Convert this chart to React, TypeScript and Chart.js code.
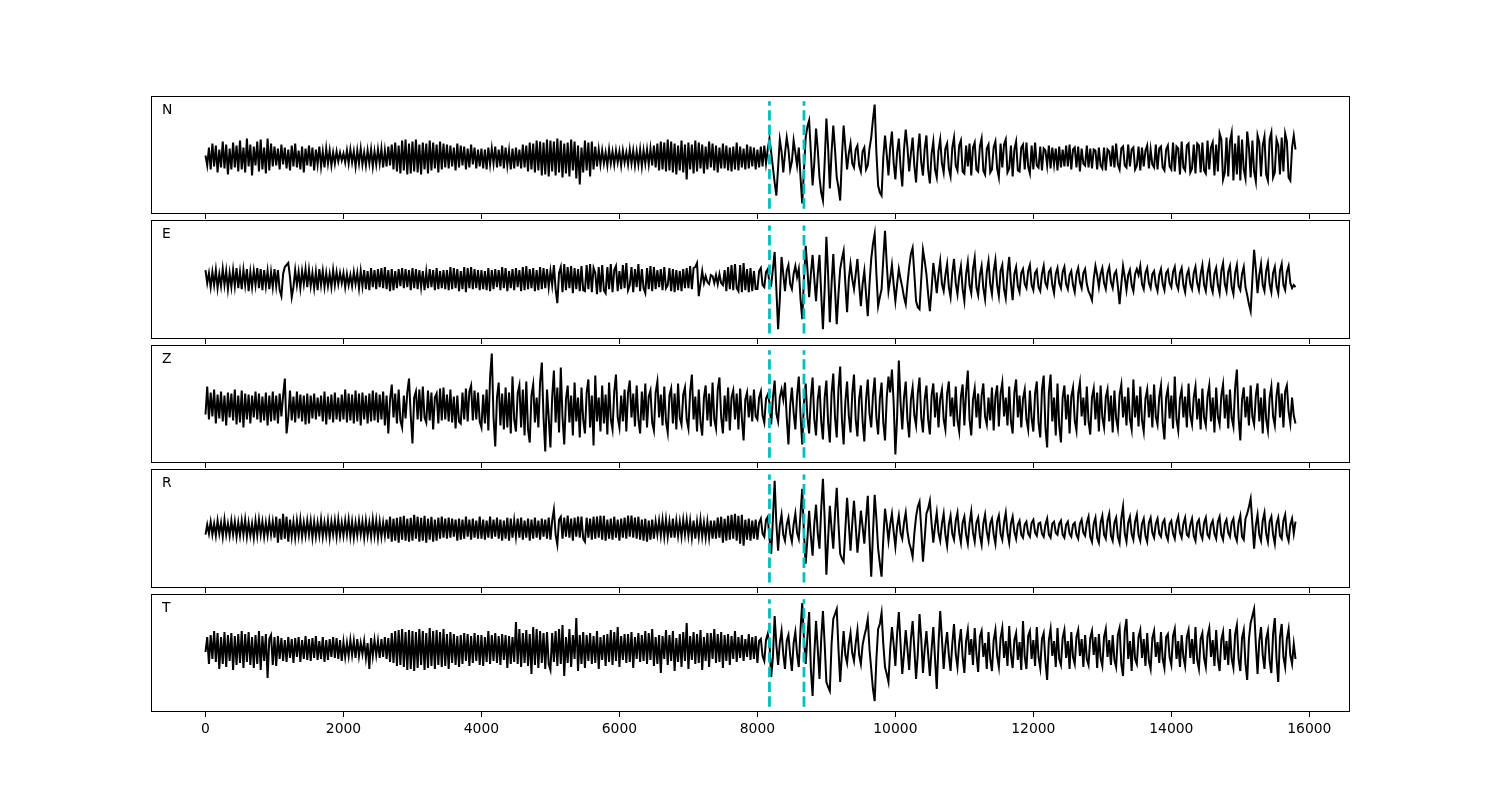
import React, { useEffect, useRef } from 'react';
import { Chart, registerables } from 'chart.js';

Chart.register(...registerables);

// ---- data ----
const SAMPLE_STEP = 25; // samples between stored points
const X_MIN = -790;
const X_MAX = 16590;
const X_TICKS = [0, 2000, 4000, 6000, 8000, 10000, 12000, 14000, 16000];
const PICKS = [8175, 8675];
const CHANNELS = ['N', 'E', 'Z', 'R', 'T'];

const N_TRACE = [
  2, -8, 10, -12, 14, -9, 12, -15, 8, -10, 16, -11, 13, -17, 9, -12, 15, -10, 12, -14,
  17, -12, 10, -15, 19, -9, 13, -18, 11, -8, 16, -14, 18, -12, 10, -16, 19, -13, 14, -9,
  11, -8, 9, -12, 13, -7, 10, -11, 8, -13, 12, -9, 14, -10, 7, -12, 11, -15, 9, -8,
  12, -9, 10, -13, 8, -7, 11, -9, 6, -10, 9, -6, 7, -8, 5, -6, 6, -4, 5, -3,
  4, -5, 7, -6, 8, -5, 6, -9, 7, -6, 9, -7, 5, -8, 7, -6, 8, -9, 6, -7,
  8, -6, 9, -10, 7, -9, 11, -8, 13, -12, 15, -14, 12, -16, 17, -13, 18, -17, 14, -16,
  16, -14, 18, -15, 13, -17, 15, -12, 14, -16, 17, -13, 15, -11, 13, -15, 16, -12, 14, -10,
  13, -11, 12, -9, 10, -13, 14, -10, 12, -8, 11, -12, 9, -10, 13, -7, 10, -11, 8, -9,
  9, -11, 8, -12, 10, -7, 9, -6, 11, -10, 8, -9, 12, -11, 10, -8, 7, -12, 9, -11,
  10, -9, 8, -11, 13, -10, 12, -14, 15, -12, 14, -15, 17, -13, 16, -18, 15, -17, 18, -19,
  17, -14, 16, -18, 19, -15, 17, -20, 14, -16, 15, -19, 18, -13, 16, -21, 12, -27, 10, -15,
  17, -13, 15, -19, 16, -12, 11, -9, 8, -7, 7, -6, 5, -8, 8, -6, 6, -7, 7, -5,
  6, -8, 7, -5, 5, -7, 8, -6, 7, -8, 6, -7, 8, -9, 7, -6, 8, -7, 9, -8,
  12, -10, 14, -13, 16, -12, 15, -14, 18, -13, 16, -15, 14, -17, 12, -13, 17, -15, 13, -22,
  15, -12, 13, -16, 17, -14, 15, -11, 13, -16, 11, -12, 16, -10, 14, -13, 12, -15, 10, -11,
  14, -11, 12, -13, 10, -14, 11, -12, 15, -13, 11, -10, 9, -12, 13, -11, 11, -9, 10, -12,
  8, -10, 11, -9, 12, -6, 8, 19, 5, -10, -25, -38, -10, 18, 6, -15, 4, 20, 8, -12,
  -4, 17, 5, -8, 10, -20, -46, -12, 20, 31, 37, 5, -28, -5, 29, 8, -20, -35, -43, -5,
  39, 10, -31, 5, 32, 8, -20, -30, -43, 0, 32, 10, -12, 4, 14, -6, -10, 8, 12, -8,
  -14, 6, 10, -12, -8, 9, 20, 38, 53, 5, -28, -35, -38, 0, 22, 3, -18, 10, 26, -5,
  -22, 5, 19, -10, -29, 8, 28, 10, -14, 4, 20, -8, -25, 6, 24, -5, -18, 9, 22, -12,
  -26, 4, 16, -12, -20, 7, 18, -6, -15, 9, 14, -11, -19, 10, 20, -8, -13, 12, 17, -14,
  -16, 12, -9, 14, -18, 10, 15, -12, -14, 11, 19, -13, -17, 9, 13, -15, -12, 10, 16, -11,
  -20, 14, -10, 13, 18, -15, -11, 12, -19, 8, 16, -13, -14, 10, 13, -12, 15, -9, -16, 12,
  -12, 15, -8, -10, 11, -13, 9, 7, -8, 12, -11, 10, -7, 9, -13, 11, -10, 8, -9, 12,
  -9, 13, -12, 8, 10, -10, 11, -14, 9, -6, -8, 12, -10, 9, -11, 8, 7, -12, 10, -8,
  -11, 10, -13, 8, 6, -9, 12, -10, 14, -7, -12, 9, 11, -8, -10, 13, -9, 8, 10, -12,
  -8, 11, -13, 10, -9, 7, 12, -11, 8, -7, -10, 13, -12, 9, 11, -10, -13, 8, 12, -9,
  -12, 15, -14, 11, 9, -17, 16, -10, -13, 12, 14, -15, -11, 13, -16, 14, 12, -15, 15, -13,
  -16, 17, -12, 10, 15, -18, 13, -14, 24, 18, -22, -15, 20, -19, 16, 25, -23, 14, -17, 22,
  -23, 18, -12, -21, 26, 10, -20, 17, -14, -24, 22, 15, -19, 12, 21, -17, -23, 18, 25, -20,
  -15, 18, 12, -17, 20, -14, 24, 16, -20, -23, 10, 22, 8,
];

const E_TRACE = [
  9, -4, 6, -8, 7, -6, 9, -9, 5, -7, 10, -6, 8, -10, 6, -8, 9, -7, 11, -9,
  7, -10, 9, -6, 10, -12, 7, -8, 8, -6, 11, -9, 10, -11, 9, -7, 8, -10, 7, -8,
  10, -7, 9, -11, -17, 5, 12, 14, 16, 2, -18, -8, 9, -6, 7, -9, 8, -5, 10, -8,
  9, -7, 6, -9, 7, -11, 10, -6, 8, -8, 6, -7, 5, -8, 9, -6, 7, -5, 6, -4,
  6, -8, 5, -6, 4, -7, 7, -5, 6, -9, 8, -7, 9, -10, 8, -11, 11, -8, 9, -10,
  10, -8, 11, -9, 12, -10, 9, -12, 10, -11, 8, -9, 10, -7, 11, -9, 10, -8, 9, -11,
  11, -9, 10, -10, 9, -8, 8, -11, 7, -9, 10, -8, 9, -11, 11, -10, 8, -9, 9, -10,
  9, -11, 12, -10, 11, -9, 10, -12, 8, -10, 12, -13, 11, -9, 12, -10, 10, -9, 9, -11,
  9, -10, 8, -11, 11, -12, 9, -10, 10, -8, 9, -11, 12, -9, 11, -12, 8, -9, 10, -11,
  11, -8, 9, -12, 12, -11, 13, -10, 10, -9, 11, -12, 9, -11, 12, -10, 11, -9, 10, -8,
  8, -6, 14, -10, -24, 6, 12, -13, 15, -11, 12, -9, 13, -14, 11, -10, 10, -12, 13, -11,
  -12, 14, -10, 15, -13, 11, 6, -15, 12, -13, 14, -11, -14, 12, -10, 15, -13, 9, 13, -12,
  8, -10, 14, -9, 16, -11, -6, 12, -13, 10, -8, 15, -12, 10, -9, -14, 11, -10, 13, -12,
  12, -10, 9, -8, 10, -11, 12, -9, -6, 11, -12, 10, -13, 9, -11, 8, -12, 10, -9, 11,
  -9, 13, -10, 11, 12, 16, -17, -5, 8, -4, 3, -3, -5, 4, 3, -4, 4, -5, 5, -4,
  -6, 9, -12, 12, -10, 14, -11, 15, -9, -12, 14, -13, 16, -11, 10, -13, 11, -12, 8, -10,
  -10, 8, 11, -6, -8, 7, 10, -4, -6, 10, 27, -10, -50, -20, 22, 5, -12, 8, 14, -5,
  -10, 5, 13, 2, 10, -20, -40, 0, 33, 10, -18, 5, 24, 0, -22, 5, 24, -15, -50, -10,
  42, 5, -43, -5, 25, -10, -45, -15, 10, 20, 28, -5, -33, 0, 15, 0, -10, 5, 20, -5,
  -27, -5, 8, -15, -37, -5, 20, 35, 45, 5, -27, -18, -10, 20, 48, 15, -12, 0, 14, -5,
  -22, -5, 10, 0, -8, -18, -25, -5, 12, 25, 31, 5, -22, -28, -30, 0, 29, 18, 5, -15,
  -32, -10, 16, 2, -14, 5, 18, -5, -12, 4, 15, -8, -18, 6, 20, -4, -15, 3, 13, -10,
  -22, 5, 17, -6, -14, 10, 21, -8, -16, 4, 13, -9, -20, 7, 18, -5, -15, 8, 19, -6,
  -17, 8, 14, -10, -19, 6, 22, -4, -21, 5, 12, -7, -13, 6, 10, -5, -9, 8, 14, -6,
  -11, 6, 9, -8, -12, 5, 13, -4, -8, 7, 10, -6, -14, 5, 11, -4, -9, 7, 12, -5,
  -10, 4, 8, -6, -13, 5, 11, -3, -9, 6, 10, -5, -12, -16, -21, 0, 13, 4, -8, 5,
  11, -4, -10, 6, 12, -3, -9, 5, 8, -7, -25, -5, 13, 2, -11, 4, 9, -6, -12, 5,
  10, 4, 13, -5, -10, 6, 11, -4, -9, 5, 8, -6, -12, 4, 10, -5, -11, 6, 9, -4,
  -8, 7, 12, -5, -10, 6, 11, -6, -13, 4, 9, -5, -10, 6, 12, -4, -11, 5, 14, -6,
  -12, 6, 15, -7, -13, 5, 11, -6, -14, 8, 16, -5, -12, 7, 13, -8, -15, 6, 14, -7,
  -11, 5, 12, -8, -16, -25, -32, 0, 29, 10, -14, 4, 15, -6, -12, 8, 16, -5, -13, 6,
  12, -7, -14, 8, 15, -6, -11, 7, 13, -4, -9, -6, -8,
];

const Z_TRACE = [
  -7, 21, -12, 15, -9, 18, -16, 13, -11, 16, -14, 12, -18, 15, -10, 14, -13, 18, -17, 12,
  -15, 17, -20, 14, -12, 13, -16, 12, -10, 16, -12, 14, -15, 11, -13, 15, -18, 12, -14, 16,
  -13, 12, -16, 14, -9, 12, 29, -26, -10, 17, -13, 11, -15, 16, -11, 13, -14, 12, -17, 14,
  -16, 12, -11, 14, -12, 10, -9, 12, -14, 16, -17, 11, -12, 13, -15, 15, -12, 10, -14, 13,
  -12, 18, -15, 14, -13, 13, -16, 17, -14, 14, -18, 15, -12, 12, -16, 14, -14, 17, -13, 15,
  -15, 13, -12, 16, -18, 12, -26, 8, 23, -10, 14, -16, 18, -13, -20, 12, -11, 15, 29, -8,
  -36, 10, 16, -12, 18, -14, 21, -10, -15, 17, -13, 15, -22, 10, 14, -16, 19, -13, 20, -12,
  13, -14, 18, -15, 11, -21, 12, -14, -16, 15, -12, 19, -14, 16, 22, -13, 17, -12, 15, -14,
  -20, 13, -16, 18, -23, 30, 54, -10, -39, 10, 25, -18, 14, -22, 20, -20, 15, -26, 31, -12,
  -24, 14, 22, -20, 18, -28, 26, -22, -35, 12, 23, -15, 10, -20, 25, 45, -10, -44, 18, -10,
  -40, 10, 37, -15, 20, -25, 40, -10, -37, 8, 22, -15, 12, -28, 25, -14, 10, -30, 20, -12,
  -26, 15, 28, -20, 12, -38, 32, -14, 10, -24, 22, -16, 13, -27, 25, -12, -22, 16, 33, -10,
  -20, 12, -14, 18, -24, 15, 27, -10, 14, -19, 22, -12, -26, 16, -13, 24, -20, 11, 17, -15,
  -23, 15, 26, -10, 13, -18, 21, -14, -25, 12, 19, -16, 14, -22, 24, -10, -17, 13, 20, -12,
  -21, 16, 33, -12, 11, -24, 18, -15, -28, 10, 22, -13, 14, -19, 25, -12, -21, 18, 30, -10,
  -26, 12, -14, 20, -23, 10, 17, -12, 14, -22, 19, -11, -33, 8, 15, -10, 12, -14, 18, -9,
  -12, 10, 16, -8, -15, 9, 13, 5, -17, 10, 27, -6, -14, 10, 18, 8, 25, -10, -37, 2,
  20, -5, -22, 12, 31, -8, -37, 5, 24, -10, -26, 10, 30, -12, -28, 8, 22, -14, -32, 10,
  27, -15, -35, 14, 34, -10, -30, 18, 41, -12, -37, 6, 26, -8, -25, 14, 33, -12, -29, 9,
  22, -14, -34, 8, 28, -6, -20, 12, 30, -10, -27, 9, 25, -15, -33, 10, 31, 15, 38, 5,
  -47, -10, 47, 5, -22, 10, 26, -12, -30, 8, 20, -8, -18, 14, 30, -10, -25, 8, 22, -12,
  -27, 12, 24, -10, 15, -20, 9, 18, -12, -22, 14, 26, -9, 10, -19, 21, -13, -24, 11, 23,
  -18, 15, 37, -12, -28, 8, 19, -10, 14, -21, 12, 24, -9, -17, 10, -13, 20, -23, 11, 22,
  -19, 14, 25, -9, 10, -18, 21, -14, -26, 15, 28, -10, 12, -20, 9, 18, -12, -22, 17, -11,
  -24, 14, 26, -15, -30, 18, 32, -20, -40, 15, 33, -14, 10, -28, 24, -18, -35, 10, 22, -12,
  13, -26, 11, 20, -13, -23, 14, 25, -9, 10, -18, 21, -14, -27, 10, 19, -12, 15, -24, 22,
  -10, -20, 10, 18, -14, 12, -25, 17, -11, -21, 13, 23, -10, 11, -18, 20, -12, -22, 28, -10,
  12, -19, 21, -13, -24, 9, 18, -10, 13, -20, 23, -9, -17, 11, 22, -15, -32, 10, 19, -11,
  12, -21, 31, -12, -23, 9, 18, -10, 11, -20, 24, -8, -17, 10, 21, -12, 9, -22, 19, -10,
  -18, 11, 22, -14, 10, -25, 20, -9, -17, 12, 23, -11, 13, -21, 18, -10, -19, 20, 38, -10,
  -33, 8, 20, -10, 11, -18, 22, -9, -17, 12, 24, -14, 10, -26, 19, -12, -23, 10, 21, -9,
  -18, 12, 25, -10, 14, -20, 16, 22, -4, -16, 10, -8, -16,
];

const R_TRACE = [
  -6, 4, -5, 7, -6, 5, -7, 8, -5, 6, -8, 9, -6, 5, -7, 8, -6, 7, -8, 6,
  -7, 8, -6, 9, -8, 6, -7, 5, -9, 8, -7, 9, -6, 7, -8, 6, -7, 8, -6, 7,
  -9, 12, -14, 10, -11, 15, -10, 12, -13, 9, -8, 7, -9, 8, -7, 9, -8, 6, -7, 8,
  -6, 8, -9, 7, -8, 6, -7, 9, -8, 6, -7, 8, -9, 7, -6, 8, -8, 9, -7, 6,
  -7, 8, -6, 9, -8, 7, -9, 6, -7, 8, -6, 7, -9, 8, -7, 6, -8, 9, -7, 8,
  -9, 7, -8, 6, -7, 9, -10, 12, -13, 10, -12, 11, -14, 12, -11, 13, -12, 10, -13, 11,
  -12, 14, -10, 12, -13, 11, -12, 13, -14, 10, -11, 12, -13, 9, -12, 11, -10, 12, -9, 10,
  -10, 11, -9, 10, -8, 9, -12, 10, -11, 9, -10, 12, -8, 9, -11, 10, -9, 8, -10, 12,
  -10, 9, -11, 8, -9, 12, -10, 9, -8, 11, -10, 9, -12, 8, -10, 11, -12, 10, -9, 8,
  -8, 10, -9, 11, -11, 8, -9, 10, -12, 9, -10, 11, -9, 8, -11, 10, -8, 9, -10, 11,
  -11, 8, 19, -6, -16, 9, 12, -10, 11, -8, 13, -9, 10, -12, 11, -8, 12, -9, 12, -10,
  -13, 11, -9, 10, -11, 12, -10, 12, -9, 13, -11, 13, -12, 9, -10, 10, -11, 12, -9, 9,
  -12, 10, -9, 11, -10, 13, -8, 13, -9, 11, -10, 12, -11, 9, -12, 10, -13, 8, -11, 9,
  -10, 7, -6, 8, -7, 9, -8, 9, -8, 7, -9, 10, -9, 8, -7, 7, -8, 9, -6, 9,
  -7, 8, -9, 8, -10, 7, -8, 9, -8, 6, -9, 7, -9, 8, -10, 8, -10, 11, -9, 12,
  -14, 10, -12, 13, -11, 14, -10, 15, -12, 13, -15, 14, -17, 9, -11, 10, -12, 8, -10, 9,
  -11, 6, 10, -5, -8, 9, 12, -10, -25, 10, 48, 5, -22, 3, 14, -6, -12, 4, 11, -5,
  -13, 4, 15, -4, -10, 15, 40, -5, -35, -10, 18, -8, -27, 5, 24, -5, -20, 20, 50, 10,
  -46, -10, 23, 0, -20, 15, 41, 5, -25, -30, -33, 0, 31, 5, -22, 5, 28, 3, -24, -5,
  18, 2, -15, 10, 33, -10, -48, -5, 34, 10, -20, -35, -48, -10, 20, 5, -12, 4, 15, -3,
  -18, 2, 13, -4, -10, 6, 16, -3, -14, -20, -28, -5, 12, 22, 27, 0, -33, -10, 15, 20,
  28, 5, -14, 3, 16, -4, -12, 5, 15, -6, -17, 4, 13, -5, -11, 8, 16, -4, -14, 6,
  12, -6, -15, 5, 17, -4, -13, 6, 11, -7, -16, 5, 14, -3, -12, 5, 10, -6, -15, 7,
  13, -5, -11, 6, 16, -4, -14, 5, 12, -3, -10, 4, 8, -6, -9, 4, 7, -5, -8, 6,
  9, -4, -7, 5, 6, -5, -8, 4, 10, -6, -9, 5, 7, -4, -6, 5, 8, -6, -9, 4,
  7, -5, -8, 4, 6, -6, -10, 5, 9, -4, -7, 6, 12, -8, -13, 5, 11, -9, -14, 6,
  13, -6, -10, 8, 15, -7, -12, 6, 11, -8, -14, 10, 22, -5, -13, 6, 12, -5, -11, 7,
  14, -6, -12, 5, 10, -7, -13, 6, 11, -4, -9, 5, 10, -5, -8, 6, 9, -6, -11, 5,
  8, -5, -10, 6, 12, -4, -9, 5, 11, -6, -8, 4, 10, -7, -12, 6, 9, -5, -10, 6,
  11, -6, -9, 4, 8, -5, -10, 7, 12, -6, -11, 5, 9, -4, -8, 6, 10, -7, -12, 6,
  13, -8, -11, 10, 15, 22, 30, 5, -20, 3, 14, -6, -12, 8, 16, -5, -13, 7, 12, -6,
  -15, 5, 11, -7, -10, 8, 14, -6, -12, 4, 10, -5, 7,
];

const T_TRACE = [
  -3, 12, -15, 14, -10, 18, -13, 16, -20, 12, -15, 17, -18, 14, -12, 16, -21, 13, -16, 15,
  -14, 18, -19, 15, -13, 17, -16, 12, -19, 14, -15, 18, -21, 13, -12, 15, -29, 10, 14, -16,
  12, -17, 13, -10, 11, -12, 9, -13, 12, -9, 10, -14, 11, -8, 12, -13, 9, -10, 13, -11,
  10, -12, 11, -9, 13, -11, 8, -10, 12, -13, 9, -11, 10, -8, 12, -9, 11, -10, 9, -12,
  7, -8, 6, -7, 9, -6, 8, -9, 10, -7, 6, -5, 8, -9, 6, -20, 11, -7, 9, -6,
  8, -9, 10, -8, 12, -10, 11, -13, 16, -14, 18, -17, 19, -16, 20, -18, 17, -21, 19, -20,
  18, -22, 17, -19, 20, -16, 18, -21, 16, -19, 21, -17, 18, -20, 19, -16, 17, -18, 20, -17,
  15, -20, 17, -14, 15, -16, 13, -18, 14, -15, 16, -12, 15, -17, 13, -14, 16, -12, 14, -16,
  14, -17, 12, -13, 18, -15, 14, -12, 16, -14, 13, -16, 15, -11, 14, -19, 13, -15, 12, -13,
  27, -15, 20, -18, 16, -14, 19, -17, 15, -25, 22, -16, 20, -19, 18, -14, 16, -20, 17, -15,
  -21, 16, -13, 18, -17, 20, -15, 24, -27, 12, -14, 20, -18, 14, -10, 31, -22, 14, -15, 17,
  -19, 14, -12, 16, -15, 13, -14, 18, -20, 12, -11, 14, -17, 15, -13, 19, -16, 17, -12, 22,
  -18, 13, -11, 15, -14, 15, -13, 17, -19, 12, -10, 16, -13, 14, -12, 18, -15, 16, -11, 20,
  -17, 12, -15, 14, -24, 13, -10, 19, -16, 14, -12, 18, -22, 11, -13, 15, -18, 17, -12, 26,
  -20, 13, -11, 17, -15, 15, -14, 19, -21, 12, -12, 16, -18, 16, -10, 20, -14, 15, -13, 17,
  -19, 14, -12, 15, -16, 13, -10, 18, -13, 12, -9, 14, -12, 10, -8, 15, -11, 12, -10, 13,
  -14, 8, 10, -7, -12, 9, 15, 5, -28, -8, 33, 4, -16, 6, 18, -5, -20, 8, 14, -6,
  -22, 6, 17, -5, -18, 20, 46, 10, -15, 12, 37, -20, -47, -5, 28, 0, -30, 10, 38, 5,
  -33, -38, -42, 5, 30, 35, 40, 0, -33, -5, 18, -6, -14, 5, 16, -4, -12, 6, 19, -6,
  -15, 4, 13, 20, 30, 0, -20, -40, -52, -10, 20, 25, 36, 5, -18, -25, -33, 0, 22, 5,
  -17, 15, 37, 5, -25, -5, 19, 0, -21, 10, 28, 0, -30, -5, 35, 10, -24, 0, 18, -5,
  -27, 0, 22, -10, -40, 5, 38, 10, -20, 3, 17, -6, -22, 5, 25, -5, -18, 6, 20, -8,
  -24, 8, 19, -6, 10, -16, 21, -5, -23, 12, 18, -8, 6, -20, 17, -10, -22, 9, 19, -7,
  -18, 11, 21, -9, 8, -17, 23, -6, -19, 9, 16, -11, 7, -21, 28, -8, -20, 13, 18, -10,
  9, -17, 22, -8, -19, 10, 16, -12, -31, 9, 20, -7, 8, -18, 21, -10, -16, 11, 19, -9,
  8, -20, 17, -8, -15, 12, 19, -7, 10, -18, 14, -10, -16, 11, 18, -6, 12, -19, 15, -9,
  -17, 12, 20, -8, 9, -16, 14, -11, -18, 14, 21, -15, -27, 18, 30, -10, 8, -22, 17, -10,
  -15, 12, 19, -9, 10, -17, 16, -12, -20, 11, 18, -8, 7, -14, 17, -10, -19, 12, 15, -8,
  -16, 13, 20, -10, 8, -18, 14, -8, -17, 12, 19, -9, 10, -15, 22, -11, -20, 10, 16, -9,
  -18, 13, 21, -8, 9, -17, 19, -10, -22, 9, 17, -11, 8, -16, 20, -10, -19, 15, 24, -10,
  -22, 11, 19, -15, -31, 10, 26, 33, 40, 5, -25, 8, 22, -6, -20, 10, 18, -12, -24, 15,
  31, -10, -33, 12, 25, -8, -18, 10, 20, -6, -15, 5, -10,
];

const TRACES = [N_TRACE, E_TRACE, Z_TRACE, R_TRACE, T_TRACE];
// y-axis limits per panel [min, max]
const Y_LIMITS = [
  [-56.5, 61.5],
  [-59.7, 58.8],
  [-55.5, 62.5],
  [-59.3, 59.7],
  [-63, 55],
];

// ---- layout ----
const PANEL_TOPS = [96, 220, 345, 469, 594];
const PANEL_BOTTOMS = [214, 339, 463, 588, 712];
const PAD_TOP = 4;
const FONT = '"DejaVu Sans", sans-serif';

const framePlugin = {
  id: 'frame',
  afterDraw(chart: any, _args: any, opts: any) {
    const { ctx, chartArea: a } = chart;
    ctx.save();
    ctx.strokeStyle = '#000';
    ctx.lineWidth = 1;
    ctx.strokeRect(a.left + 0.5, a.top + 0.5, a.right - a.left - 1, a.bottom - a.top - 1);
    ctx.fillStyle = '#000';
    ctx.font = '13.9px ' + FONT;
    ctx.textBaseline = 'alphabetic';
    ctx.textAlign = 'left';
    ctx.fillText(opts.label, a.left + 11, a.top + 18);
    ctx.restore();
  },
};

function Panel({ idx }: { idx: number }) {
  const ref = useRef<HTMLCanvasElement>(null);
  const last = idx === CHANNELS.length - 1;
  const axisH = last ? 40 : 6;
  const top = PANEL_TOPS[idx] - PAD_TOP;
  const height = PANEL_BOTTOMS[idx] - PANEL_TOPS[idx] + PAD_TOP + axisH;

  useEffect(() => {
    if (!ref.current) return;
    const trace = TRACES[idx];
    const pts = trace.map((v, i) => ({ x: i * SAMPLE_STEP, y: v }));
    const [lo, hi] = Y_LIMITS[idx];
    const m = ((hi - lo) * 0.05) / 1.1;
    const pickSets = PICKS.map((p) => ({
      data: [
        { x: p, y: lo + m },
        { x: p, y: hi - m },
      ],
      borderColor: '#00bfbf',
      borderWidth: 2.8,
      borderDash: [10.3, 4.4],
      pointRadius: 0,
      fill: false,
      order: 0,
    }));
    const chart = new Chart(ref.current, {
      type: 'line',
      data: {
        datasets: [
          {
            data: pts,
            borderColor: '#000',
            borderWidth: 2,
            pointRadius: 0,
            tension: 0,
            fill: false,
            order: 1,
          },
          ...pickSets,
        ],
      } as any,
      options: {
        animation: false,
        responsive: false,
        events: [],
        layout: { padding: { left: 151, right: 150, top: PAD_TOP, bottom: 0 } },
        plugins: {
          legend: { display: false },
          tooltip: { enabled: false },
          frame: { label: CHANNELS[idx] },
        } as any,
        scales: {
          x: {
            type: 'linear',
            min: X_MIN,
            max: X_MAX,
            afterBuildTicks: (axis: any) => {
              axis.ticks = X_TICKS.map((v) => ({ value: v }));
            },
            afterFit: (scale: any) => {
              scale.height = axisH;
            },
            ticks: {
              display: last,
              color: '#000',
              padding: 4,
              maxRotation: 0,
              autoSkip: false,
              font: { family: FONT, size: 13.9 },
              callback: (v: any) => String(v),
            },
            grid: {
              drawOnChartArea: false,
              drawTicks: true,
              tickLength: 5,
              color: '#000',
              tickColor: '#000',
              lineWidth: 1,
            },
            border: { display: false },
          },
          y: {
            display: false,
            min: lo,
            max: hi,
          },
        },
      } as any,
      plugins: [framePlugin],
    });
    return () => chart.destroy();
  }, [idx]);

  return (
    <canvas
      ref={ref}
      width={1500}
      height={height}
      style={{ position: 'absolute', left: 0, top, width: 1500, height, display: 'block' }}
    />
  );
}

export default function App() {
  return (
    <div style={{ position: 'absolute', left: 0, top: 0, width: 1500, height: 800, background: '#fff' }}>
      {CHANNELS.map((_, i) => (
        <Panel key={i} idx={i} />
      ))}
    </div>
  );
}
